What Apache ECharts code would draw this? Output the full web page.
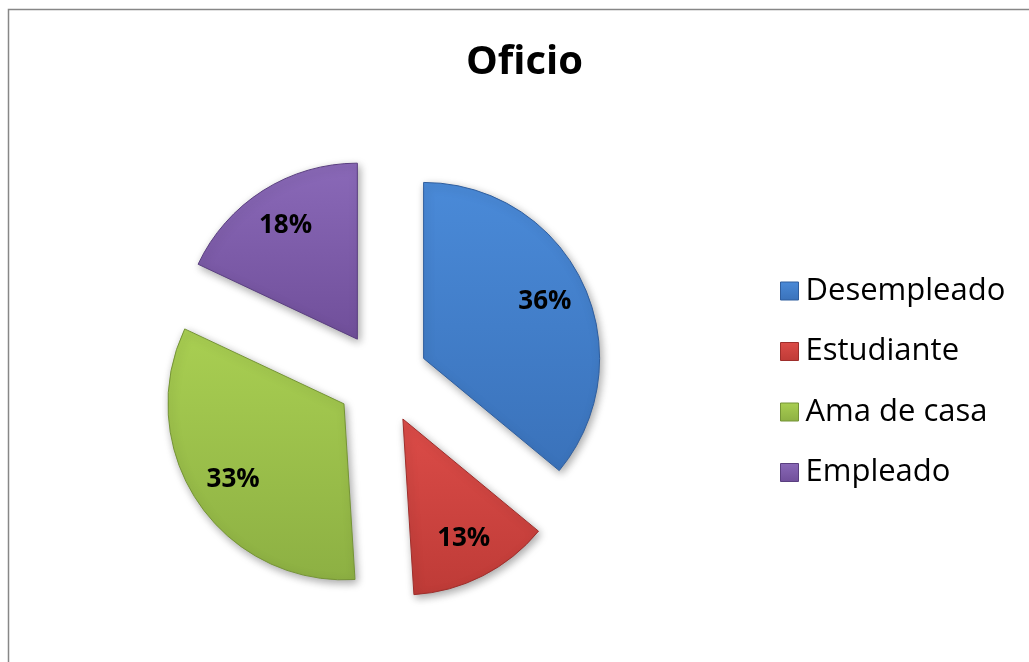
<!DOCTYPE html>
<html>
<head>
<meta charset="utf-8">
<script src="https://cdn.jsdelivr.net/npm/echarts@6/dist/echarts.min.js"></script>
<style>
  html, body { margin: 0; padding: 0; background: #fff; }
  #chart { width: 1029px; height: 662px; }
</style>
</head>
<body>
<div id="chart"></div>
<script>
// datos del gráfico
var categorias = ['Desempleado', 'Estudiante', 'Ama de casa', 'Empleado'];
var porcentajes = [36, 13, 33, 18];
// colores estilo Excel (claro arriba, oscuro abajo)
var coloresClaros = ['#4A8AD8', '#DC4C48', '#A9CF52', '#8A69B8'];
var coloresOscuros = ['#3A72BA', '#BE3B37', '#8DB043', '#704F9A'];
var bordes = ['#2F5E9E', '#9E2E2B', '#759436', '#5A3F80'];

var chart = echarts.init(document.getElementById('chart'));

function gradiente (i) {
  return new echarts.graphic.LinearGradient(0, 0, 0, 1, [
    { offset: 0, color: coloresClaros[i] },
    { offset: 1, color: coloresOscuros[i] }
  ]);
}

var datos = categorias.map(function (c, i) {
  return {
    name: c,
    value: porcentajes[i],
    selected: true,
    itemStyle: {
      color: gradiente(i),
      borderColor: bordes[i],
      borderWidth: 1
    }
  };
});

// serie transparente solo para colocar las etiquetas más hacia fuera
var datosEtiquetas = categorias.map(function (c, i) {
  return { name: c, value: porcentajes[i], selected: true };
});

chart.setOption({
  animation: false,
  title: {
    text: 'Oficio',
    left: 461,
    top: 38,
    textStyle: {
      fontFamily: 'Open Sans',
      fontWeight: 'bold',
      fontSize: 40,
      color: '#000'
    }
  },
  legend: {
    orient: 'vertical',
    left: 775,
    top: 266,
    icon: 'rect',
    itemWidth: 18,
    itemHeight: 18,
    itemGap: 20.5,
    data: categorias.map(function (c, i) {
      return { name: c, itemStyle: { color: gradiente(i), borderColor: bordes[i], borderWidth: 1 } };
    }),
    textStyle: {
      fontFamily: 'Open Sans',
      fontSize: 31,
      lineHeight: 40,
      color: '#000',
      padding: [0, 0, 0, 2]
    }
  },
  graphic: [{
    type: 'rect',
    shape: { x: 8.5, y: 9.5, width: 1100, height: 1000 },
    style: { fill: 'none', stroke: '#878787', lineWidth: 1.5 },
    silent: true
  }],
  series: [
    {
      type: 'pie',
      center: [382, 378],
      radius: [0, 176],
      startAngle: 90,
      clockwise: true,
      selectedMode: 'multiple',
      selectedOffset: 46,
      silent: true,
      label: { show: false },
      labelLine: { show: false },
      itemStyle: {
        shadowBlur: 8,
        shadowOffsetX: 2,
        shadowOffsetY: 3,
        shadowColor: 'rgba(0,0,0,0.35)'
      },
      data: datos
    },
    {
      type: 'pie',
      center: [382, 378],
      radius: [86, 176],
      startAngle: 90,
      clockwise: true,
      selectedMode: 'multiple',
      selectedOffset: 46,
      silent: true,
      itemStyle: { color: 'rgba(0,0,0,0)' },
      label: {
        show: true,
        position: 'inner',
        formatter: '{c}%',
        fontFamily: 'Open Sans',
        fontWeight: 'bold',
        fontSize: 26,
        color: '#000'
      },
      labelLine: { show: false },
      data: datosEtiquetas
    }
  ]
});
</script>
</body>
</html>
